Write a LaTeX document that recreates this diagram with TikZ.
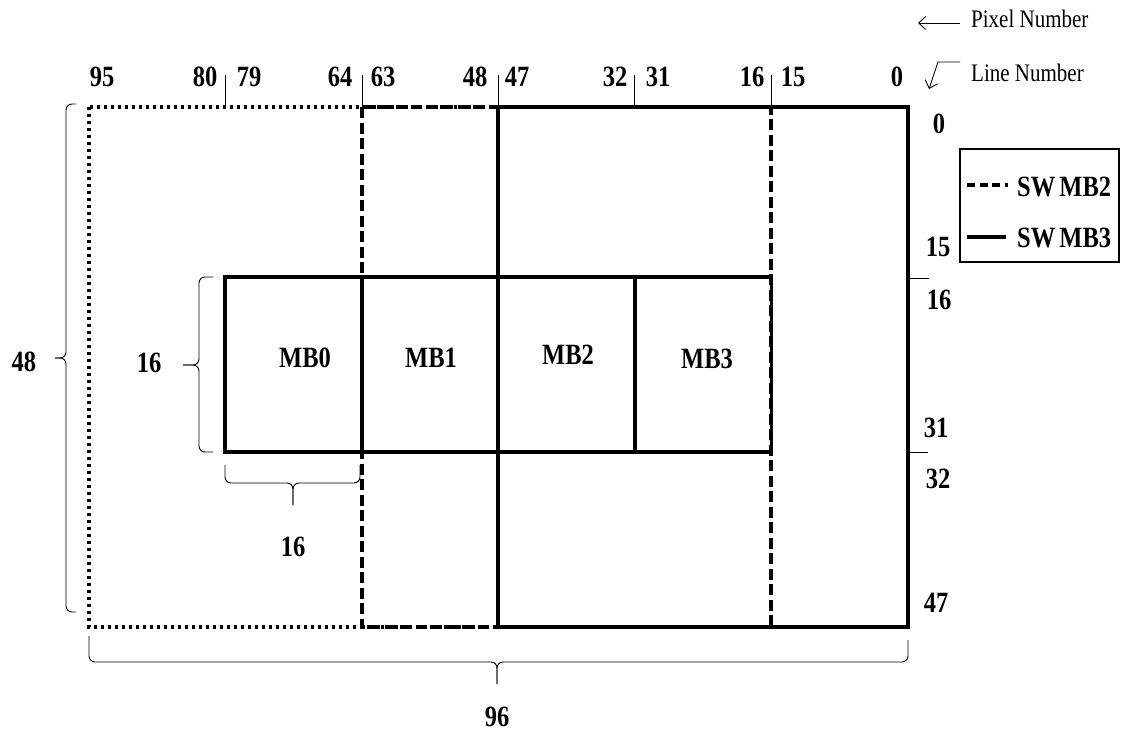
\documentclass[tikz,border=0pt]{standalone}
\usepackage{fontspec}
\setmainfont{Liberation Serif}
\usetikzlibrary{arrows.meta}
\newcommand\tallt[1]{\scalebox{1}[1.2]{#1}}
\begin{document}
\begin{tikzpicture}[x=1pt,y=-1pt,
  thickln/.style={line width=3.4pt},
  dotln/.style={line width=3.6pt, dash pattern=on 3.4pt off 3.6pt},
  dashln/.style={line width=3.4pt, dash pattern=on 11pt off 4.5pt},
  thinln/.style={line width=0.9pt},
  bracestyle/.style={line width=0.9pt, rounded corners=6pt},
  num/.style={font=\fontsize{24.5}{24.5}\selectfont\bfseries, inner sep=0pt},
  note/.style={font=\fontsize{21}{21}\selectfont, inner sep=0pt, anchor=west},
  mbbox/.style={draw, line width=3.4pt, minimum width=137pt, minimum height=175pt, inner sep=0pt},
]
\useasboundingbox (0,0) rectangle (1121,731);

% search windows
\coordinate (TL) at (89,107);
\coordinate (BR) at (908,627);
\draw[dotln] (TL) rectangle (BR);
\coordinate (S2a) at (362,107);
\coordinate (S2b) at (771,627);
\draw[dashln] (S2a) rectangle (S2b);
\coordinate (S3a) at (498,107);
\coordinate (S3b) at (908,627);
\draw[thickln] (S3a) rectangle (S3b);

% macroblocks
\node[mbbox] (mb0) at (293.5,364.5) {};
\node[mbbox] (mb1) at (430,364.5) {};
\node[mbbox] (mb2) at (566.5,364.5) {};
\node[mbbox] (mb3) at (703,364.5) {};
\node[num] (l0) at (305,358) {\tallt{MB0}};
\node[num] (l1) at (431,358) {\tallt{MB1}};
\node[num] (l2) at (568,355) {\tallt{MB2}};
\node[num] (l3) at (707,359) {\tallt{MB3}};

% top ticks
\foreach \x in {225,362,498,634,771} \draw[thinln] (\x,75) -- (\x,107);
% right ticks
\draw[thinln] (910,278) -- (929,278);
\draw[thinln] (910,452) -- (928,452);

% top numbers
\node[num] (t95) at (102,77) {\tallt{95}};
\node[num] (t80) at (205,77) {\tallt{80}};
\node[num] (t79) at (249,77) {\tallt{79}};
\node[num] (t64) at (340,77) {\tallt{64}};
\node[num] (t63) at (383,77) {\tallt{63}};
\node[num] (t48) at (475,77) {\tallt{48}};
\node[num] (t47) at (517,77) {\tallt{47}};
\node[num] (t32) at (615,77) {\tallt{32}};
\node[num] (t31) at (658,77) {\tallt{31}};
\node[num] (t16) at (752,77) {\tallt{16}};
\node[num] (t15) at (793,77) {\tallt{15}};
\node[num] (t0) at (897,77) {\tallt{0}};

% right numbers
\node[num] (r0) at (939,124) {\tallt{0}};
\node[num] (r15) at (938,247) {\tallt{15}};
\node[num] (r16) at (939,300) {\tallt{16}};
\node[num] (r31) at (936,428) {\tallt{31}};
\node[num] (r32) at (938,479) {\tallt{32}};
\node[num] (r47) at (936,603) {\tallt{47}};

% braces
\coordinate (b48tip) at (55,358);
\draw[bracestyle] (76,104) -- (66,104) -- (66,358) -- (b48tip);
\draw[bracestyle] (76,612) -- (66,612) -- (66,358) -- (b48tip);
\node[num] (n48) at (24,362) {\tallt{48}};

\coordinate (b16tip) at (183,365);
\draw[bracestyle] (213,277) -- (199,277) -- (199,365) -- (b16tip);
\draw[bracestyle] (213,452) -- (199,452) -- (199,365) -- (b16tip);
\node[num] (n16a) at (149,363) {\tallt{16}};

\coordinate (b16btip) at (293,505);
\draw[bracestyle] (225,465) -- (225,483) -- (293,483) -- (b16btip);
\draw[bracestyle] (360,465) -- (360,483) -- (293,483) -- (b16btip);
\node[num] (n16b) at (293,547) {\tallt{16}};

\coordinate (b96tip) at (497,684);
\draw[bracestyle] (89,636) -- (89,662) -- (497,662) -- (b96tip);
\draw[bracestyle] (908,640) -- (908,662) -- (497,662) -- (b96tip);
\node[num] (n96) at (497,717) {\tallt{96}};

% legend
\node[draw, line width=1.1pt, minimum width=159pt, minimum height=113pt, inner sep=0pt] (legend) at (1039.5,205.5) {};
\coordinate (lg1a) at (967,185);
\coordinate (lg1b) at (1008,185);
\draw[line width=3.2pt, dash pattern=on 8pt off 4.5pt] (lg1a) -- (lg1b);
\node[num, anchor=west] (sw2) at (1017,187) {\tallt{SW\,MB2}};
\coordinate (lg2a) at (967,237);
\coordinate (lg2b) at (1006,237);
\draw[line width=3.2pt] (lg2a) -- (lg2b);
\node[num, anchor=west] (sw3) at (1017,238) {\tallt{SW\,MB3}};

% top right notes
\coordinate (pa) at (960,23);
\coordinate (pb) at (918,23);
\draw[thinln, -{Straight Barb[length=7pt,width=13pt]}] (pa) -- (pb);
\node[note] (pix) at (971,19) {\tallt{Pixel Number}};
\coordinate (la) at (960,62);
\coordinate (lb) at (938,62);
\coordinate (lc) at (929,89);
\draw[thinln, -{Straight Barb[length=7pt,width=13pt]}] (la) -- (lb) -- (lc);
\node[note] (lin) at (971,73) {\tallt{Line Number}};
\end{tikzpicture}
\end{document}
